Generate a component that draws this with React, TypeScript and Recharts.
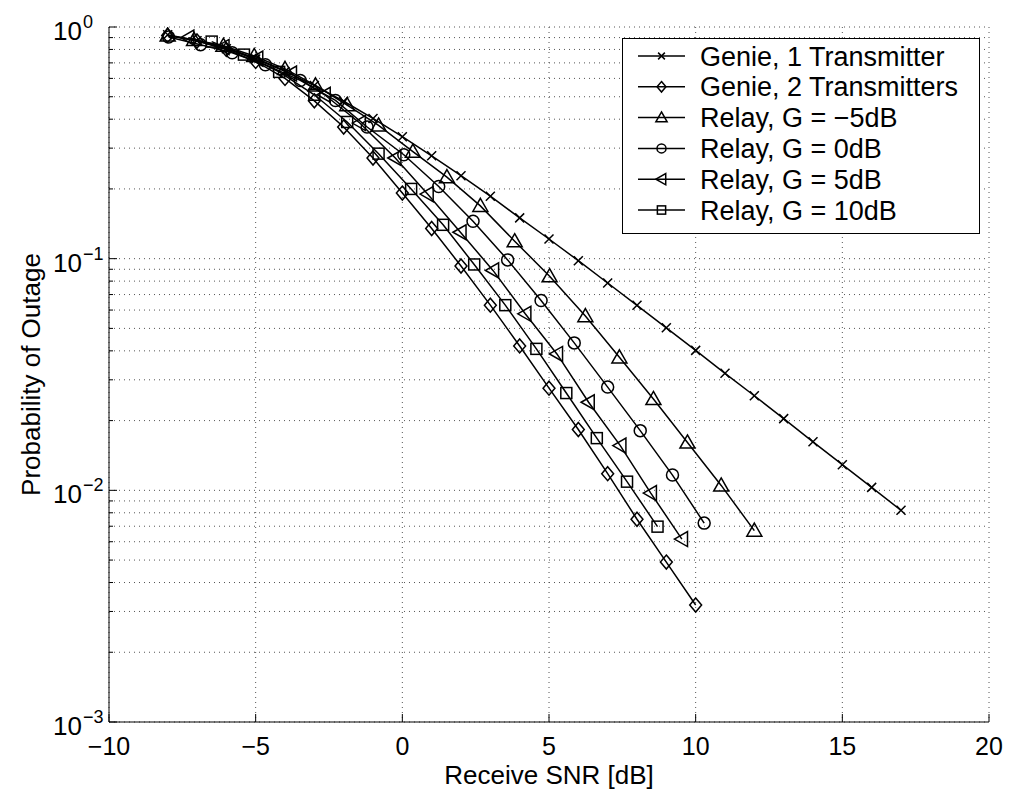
import { LineChart, Line, XAxis, YAxis, CartesianGrid } from 'recharts'

const FONT = '"Liberation Sans", Arial, Helvetica, sans-serif'

// Genie, 1 transmitter (x markers)
const genie1Snr = [-8, -7, -6, -5, -4, -3, -2, -1, 0, 1, 2, 3, 4, 5, 6, 7, 8, 9, 10, 11, 12, 13, 14, 15, 16, 17]
const genie1Pout = [0.925, 0.872, 0.805, 0.727, 0.643, 0.559, 0.478, 0.403, 0.336, 0.278, 0.228, 0.186, 0.15, 0.1216, 0.098, 0.0785, 0.0629, 0.0503, 0.0402, 0.032, 0.0256, 0.0204, 0.0162, 0.0129, 0.0103, 0.0082]

// Genie, 2 transmitters (diamonds)
const genie2Snr = [-8, -7, -6, -5, -4, -3, -2, -1, 0, 1, 2, 3, 4, 5, 6, 7, 8, 9, 10]
const genie2Pout = [0.92, 0.87, 0.8, 0.71, 0.6, 0.48, 0.37, 0.272, 0.192, 0.135, 0.093, 0.063, 0.042, 0.0276, 0.0183, 0.0118, 0.0075, 0.0049, 0.0032]

// Relay, G = -5dB (triangles)
const relayM5Snr = [-8, -7.1, -6.1, -5.05, -4.0, -2.96, -1.88, -0.81, 0.36, 1.52, 2.66, 3.83, 5.02, 6.24, 7.4, 8.56, 9.72, 10.87, 12.0]
const relayM5Pout = [0.92, 0.88, 0.83, 0.75, 0.66, 0.56, 0.46, 0.376, 0.29, 0.225, 0.169, 0.119, 0.084, 0.0565, 0.0375, 0.0248, 0.0161, 0.0105, 0.0067]

// Relay, G = 0dB (circles)
const relay0Snr = [-7.97, -6.88, -5.8, -4.67, -3.48, -2.28, -1.2, 0.05, 1.24, 2.41, 3.59, 4.73, 5.86, 7.0, 8.11, 9.21, 10.29]
const relay0Pout = [0.905, 0.839, 0.774, 0.687, 0.588, 0.482, 0.37, 0.281, 0.205, 0.145, 0.0988, 0.066, 0.0433, 0.0279, 0.0181, 0.01164, 0.00722]

// Relay, G = 5dB (left triangles)
const relay5Snr = [-7.3, -6.1, -4.95, -3.8, -2.65, -1.45, -0.24, 0.86, 1.98, 3.09, 4.19, 5.27, 6.35, 7.43, 8.47, 9.53]
const relay5Pout = [0.9, 0.82, 0.73, 0.63, 0.51, 0.385, 0.272, 0.19, 0.13, 0.089, 0.0578, 0.0388, 0.024, 0.0156, 0.00973, 0.00616]

// Relay, G = 10dB (squares)
const relay10Snr = [-6.5, -5.4, -4.2, -3.0, -1.88, -0.81, 0.3, 1.39, 2.45, 3.51, 4.57, 5.59, 6.63, 7.66, 8.7]
const relay10Pout = [0.865, 0.76, 0.64, 0.51, 0.389, 0.284, 0.2, 0.14, 0.0944, 0.063, 0.0408, 0.0263, 0.0168, 0.0109, 0.00697]

const xTicks = [-10, -5, 0, 5, 10, 15, 20]
const decades = [-3, -2, -1]
const mantissas = [1, 2, 3, 4, 5, 6, 7, 8, 9]
const yTicks = [...decades.flatMap((d) => mantissas.map((m) => Number((m * Math.pow(10, d)).toPrecision(3)))), 1]

const zip = (xs: number[], ps: number[]) => xs.map((x, i) => ({ x, p: ps[i] }))

type Kind = 'x' | 'diamond' | 'tri' | 'circle' | 'left' | 'square'

const series: { name: string; kind: Kind; data: { x: number; p: number }[] }[] = [
  { name: 'Genie, 1 Transmitter', kind: 'x', data: zip(genie1Snr, genie1Pout) },
  { name: 'Genie, 2 Transmitters', kind: 'diamond', data: zip(genie2Snr, genie2Pout) },
  { name: 'Relay, G = \u22125dB', kind: 'tri', data: zip(relayM5Snr, relayM5Pout) },
  { name: 'Relay, G = 0dB', kind: 'circle', data: zip(relay0Snr, relay0Pout) },
  { name: 'Relay, G = 5dB', kind: 'left', data: zip(relay5Snr, relay5Pout) },
  { name: 'Relay, G = 10dB', kind: 'square', data: zip(relay10Snr, relay10Pout) },
]

function Marker({ kind, cx, cy, s = 1 }: { kind: Kind; cx: number; cy: number; s?: number }) {
  const st = { fill: 'none', stroke: '#000', strokeWidth: 1.5 }
  if (cx == null || cy == null || isNaN(cx) || isNaN(cy)) return null
  switch (kind) {
    case 'x': {
      const a = 4.5 * s
      return <path d={`M${cx - a},${cy - a}L${cx + a},${cy + a}M${cx - a},${cy + a}L${cx + a},${cy - a}`} {...st} />
    }
    case 'diamond': {
      const d = 7 * s
      return <path d={`M${cx},${cy - d}L${cx + d * 0.85},${cy}L${cx},${cy + d}L${cx - d * 0.85},${cy}Z`} {...st} />
    }
    case 'tri': {
      const t = 7.5 * s
      return <path d={`M${cx},${cy - t}L${cx + t},${cy + t * 0.75}L${cx - t},${cy + t * 0.75}Z`} {...st} />
    }
    case 'left': {
      const t = 7.5 * s
      return <path d={`M${cx - t},${cy}L${cx + t * 0.75},${cy - t}L${cx + t * 0.75},${cy + t}Z`} {...st} />
    }
    case 'circle':
      return <circle cx={cx} cy={cy} r={6 * s} {...st} />
    case 'square': {
      const h = 5.5 * s
      return <rect x={cx - h} y={cy - h} width={2 * h} height={2 * h} {...st} />
    }
  }
  return null
}

const isDecade = (v: number) => {
  const e = Math.log10(v)
  return Math.abs(e - Math.round(e)) < 1e-6
}

function LeftTick(props: any) {
  const { x, y, payload } = props
  const v = payload.value
  const major = isDecade(v)
  const e = Math.round(Math.log10(v))
  return (
    <g>
      <line x1={x} x2={x + (major ? 8 : 4)} y1={y} y2={y} stroke="#000" />
      {major && (
        <>
          <text x={x - 27} y={y + 13} textAnchor="end" fontSize={26} fontFamily={FONT} fill="#000">10</text>
          <text x={x - 26} y={y + 1} textAnchor="start" fontSize={18} fontFamily={FONT} fill="#000">
            {e === 0 ? '0' : '\u2212' + Math.abs(e)}
          </text>
        </>
      )}
    </g>
  )
}

function RightTick(props: any) {
  const { x, y, payload } = props
  const major = isDecade(payload.value)
  return <line x1={x} x2={x - (major ? 8 : 4)} y1={y} y2={y} stroke="#000" />
}

function BottomTick(props: any) {
  const { x, y, payload } = props
  const v = payload.value
  return (
    <g>
      <line x1={x} x2={x} y1={y} y2={y - 8} stroke="#000" />
      <text x={x} y={y + 33} textAnchor="middle" fontSize={25} fontFamily={FONT} fill="#000">
        {v < 0 ? '\u2212' + Math.abs(v) : String(v)}
      </text>
    </g>
  )
}

function TopTick(props: any) {
  const { x, y } = props
  return <line x1={x} x2={x} y1={y} y2={y + 8} stroke="#000" />
}

function LegendBox() {
  const rowY = (i: number) => 18 + i * 30.8
  return (
    <svg width={360} height={200} style={{ position: 'absolute', left: 622, top: 38 }}>
      <rect x={0.5} y={0.5} width={357} height={195} fill="#fff" stroke="#000" strokeWidth={1} />
      {series.map((s, i) => (
        <g key={s.name}>
          <line x1={16} x2={63} y1={rowY(i)} y2={rowY(i)} stroke="#000" strokeWidth={1.5} />
          <Marker kind={s.kind} cx={39.5} cy={rowY(i)} s={0.75} />
          <text x={78} y={rowY(i) + 9.5} fontSize={27} fontFamily={FONT} fill="#000">{s.name}</text>
        </g>
      ))}
    </svg>
  )
}

export default function App() {
  return (
    <div style={{ position: 'absolute', left: 0, top: 0, width: 1011, height: 792, background: '#fff' }}>
      <LineChart width={1011} height={792} margin={{ top: 27, right: 22, bottom: 0, left: 0 }}>
        <CartesianGrid stroke="#555" strokeDasharray="1 4" strokeWidth={1} />
        <XAxis
          type="number"
          dataKey="x"
          domain={[-10, 20]}
          ticks={xTicks}
          interval={0}
          height={70}
          tickSize={0}
          tickMargin={0}
          tick={<BottomTick />}
          axisLine={{ stroke: '#000', strokeWidth: 1 }}
          allowDataOverflow
          label={{ value: 'Receive SNR [dB]', position: 'insideBottom', offset: 8, fontSize: 26, fontFamily: FONT, fill: '#000' }}
        />
        <XAxis
          xAxisId="top"
          orientation="top"
          type="number"
          domain={[-10, 20]}
          ticks={xTicks}
          interval={0}
          height={0}
          tickSize={0}
          tickMargin={0}
          tick={<TopTick />}
          axisLine={{ stroke: '#000', strokeWidth: 1 }}
          allowDataOverflow
        />
        <YAxis
          scale="log"
          domain={[0.001, 1]}
          ticks={yTicks}
          interval={0}
          width={109}
          tickSize={0}
          tickMargin={0}
          tick={<LeftTick />}
          axisLine={{ stroke: '#000', strokeWidth: 1 }}
          allowDataOverflow
          label={{
            value: 'Probability of Outage',
            content: (p: any) => {
              const vb = p.viewBox || { x: 0, y: 27, width: 109, height: 695 }
              const cx = vb.x + 31
              const cy = vb.y + vb.height / 2
              return (
                <text x={cx} y={cy} transform={`rotate(-90 ${cx} ${cy})`} textAnchor="middle" dominantBaseline="central" fontSize={26} fontFamily={FONT} fill="#000">
                  Probability of Outage
                </text>
              )
            },
          }}
        />
        <YAxis
          yAxisId="right"
          orientation="right"
          scale="log"
          domain={[0.001, 1]}
          ticks={yTicks}
          interval={0}
          width={0}
          tickSize={0}
          tickMargin={0}
          tick={<RightTick />}
          axisLine={{ stroke: '#000', strokeWidth: 1 }}
          allowDataOverflow
        />
        {series.map((s) => (
          <Line
            key={s.name}
            data={s.data}
            dataKey="p"
            name={s.name}
            stroke="#000"
            strokeWidth={1.5}
            isAnimationActive={false}
            dot={(p: any) => <Marker key={`${s.name}-${p.index}`} kind={s.kind} cx={p.cx} cy={p.cy} />}
            activeDot={false}
          />
        ))}
      </LineChart>
      <LegendBox />
    </div>
  )
}
